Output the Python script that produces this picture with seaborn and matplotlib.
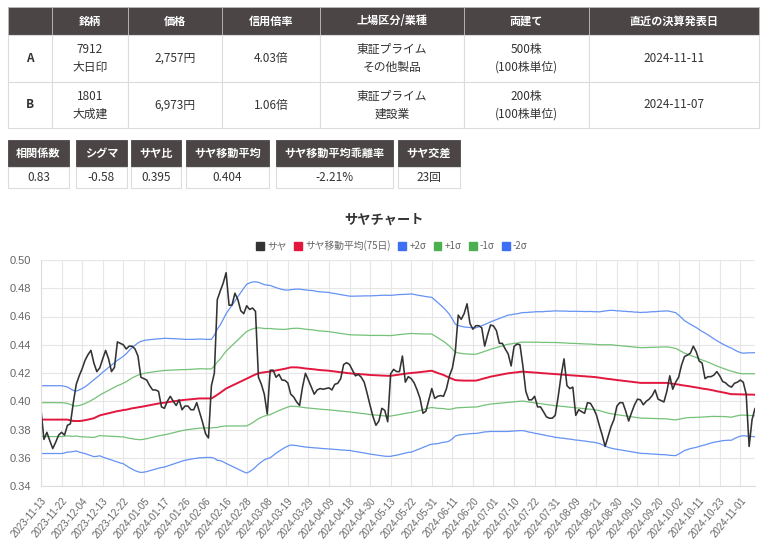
import numpy as np
import pandas as pd
import matplotlib
matplotlib.use("Agg")
import matplotlib.pyplot as plt
from matplotlib.patches import Rectangle, Patch
import seaborn as sns

# ---- tables ----
header_cols = ["", "銘柄", "価格", "信用倍率", "上場区分/業種", "両建て", "直近の決算発表日"]
row_a = ["A", "7912\n大日印", "2,757円", "4.03倍", "東証プライム\nその他製品", "500株\n(100株単位)", "2024-11-11"]
row_b = ["B", "1801\n大成建", "6,973円", "1.06倍", "東証プライム\n建設業", "200株\n(100株単位)", "2024-11-07"]

stat_names = ["相関係数", "シグマ", "サヤ比", "サヤ移動平均", "サヤ移動平均乖離率", "サヤ交差"]
stat_values = ["0.83", "-0.58", "0.395", "0.404", "-2.21%", "23回"]

# ---- chart data (one value per trading day, 2023-11-13 .. 2024-11-11) ----
tick_labels = ["2023-11-13", "2023-11-22", "2023-12-04", "2023-12-13", "2023-12-22",
               "2024-01-05", "2024-01-17", "2024-01-26", "2024-02-06", "2024-02-16",
               "2024-02-28", "2024-03-08", "2024-03-19", "2024-03-29", "2024-04-09",
               "2024-04-18", "2024-04-30", "2024-05-13", "2024-05-22", "2024-05-31",
               "2024-06-11", "2024-06-20", "2024-07-01", "2024-07-10", "2024-07-22",
               "2024-07-31", "2024-08-09", "2024-08-21", "2024-08-30", "2024-09-10",
               "2024-09-20", "2024-10-02", "2024-10-11", "2024-10-23", "2024-11-01"]

saya = [
    0.394, 0.373, 0.378, 0.372, 0.3665, 0.371, 0.376, 0.378, 0.376, 0.383,
    0.384, 0.399, 0.412, 0.418, 0.423, 0.429, 0.433, 0.436, 0.427, 0.421,
    0.4236, 0.430, 0.436, 0.430, 0.421, 0.424, 0.442, 0.441, 0.440, 0.437,
    0.439, 0.439, 0.437, 0.432, 0.417, 0.416, 0.415, 0.411, 0.408, 0.408,
    0.407, 0.396, 0.395, 0.400, 0.4035, 0.400, 0.397, 0.401, 0.394, 0.3966,
    0.3966, 0.394, 0.394, 0.399, 0.392, 0.385, 0.377, 0.374, 0.411, 0.420,
    0.472, 0.478, 0.4836, 0.491, 0.468, 0.468, 0.4765, 0.472, 0.464, 0.462,
    0.4676, 0.465, 0.466, 0.4636, 0.417, 0.412, 0.405, 0.391, 0.422, 0.422,
    0.417, 0.419, 0.415, 0.4148, 0.413, 0.405, 0.403, 0.3995, 0.397, 0.410,
    0.4198, 0.415, 0.410, 0.405, 0.408, 0.409, 0.4085, 0.409, 0.4095, 0.408,
    0.412, 0.4127, 0.416, 0.426, 0.4273, 0.426, 0.422, 0.418, 0.419, 0.417,
    0.4135, 0.4056, 0.397, 0.389, 0.383, 0.386, 0.395, 0.3935, 0.3855, 0.4194,
    0.4226, 0.421, 0.421, 0.432, 0.4135, 0.4174, 0.416, 0.413, 0.408, 0.402,
    0.3915, 0.393, 0.401, 0.409, 0.402, 0.4035, 0.404, 0.4035, 0.409, 0.418,
    0.4235, 0.435, 0.461, 0.458, 0.462, 0.469, 0.455, 0.451, 0.4535, 0.4535,
    0.452, 0.439, 0.447, 0.454, 0.4533, 0.450, 0.441, 0.441, 0.437, 0.4335,
    0.425, 0.4388, 0.4405, 0.440, 0.425, 0.407, 0.401, 0.401, 0.4035, 0.396,
    0.396, 0.3926, 0.389, 0.388, 0.388, 0.390, 0.403, 0.418, 0.430, 0.411,
    0.409, 0.410, 0.390, 0.394, 0.3926, 0.3915, 0.399, 0.3985, 0.395, 0.3905,
    0.383, 0.376, 0.368, 0.375, 0.382, 0.387, 0.3966, 0.399, 0.399, 0.393,
    0.386, 0.392, 0.3975, 0.4015, 0.401, 0.3975, 0.400, 0.4015, 0.404, 0.408,
    0.4015, 0.4005, 0.3995, 0.407, 0.418, 0.4085, 0.4135, 0.417, 0.4256, 0.4316,
    0.4327, 0.434, 0.439, 0.435, 0.4285, 0.427, 0.416, 0.4174, 0.4174, 0.4185,
    0.421, 0.418, 0.414, 0.413, 0.411, 0.410, 0.4127, 0.4135, 0.415, 0.4135,
    0.405, 0.368, 0.387, 0.395,
]

saya_ma = [
    0.387, 0.387, 0.387, 0.387, 0.387, 0.387, 0.387, 0.387, 0.387, 0.387,
    0.3865, 0.386, 0.386, 0.386, 0.3862, 0.3866, 0.387, 0.3875, 0.388, 0.389,
    0.390, 0.3905, 0.391, 0.3915, 0.392, 0.3925, 0.393, 0.3933, 0.3938, 0.394,
    0.3945, 0.395, 0.3953, 0.3957, 0.396, 0.3964, 0.3968, 0.3972, 0.3976, 0.398,
    0.3984, 0.3987, 0.399, 0.3993, 0.3996, 0.3999, 0.4002, 0.4005, 0.4008, 0.401,
    0.4012, 0.4014, 0.4016, 0.4018, 0.402, 0.402, 0.402, 0.402, 0.402, 0.4032,
    0.4046, 0.406, 0.4075, 0.409, 0.410, 0.411, 0.412, 0.413, 0.414, 0.415,
    0.416, 0.417, 0.418, 0.419, 0.4198, 0.4202, 0.4205, 0.4208, 0.421, 0.4214,
    0.4218, 0.4222, 0.4226, 0.423, 0.4235, 0.424, 0.424, 0.424, 0.4238, 0.4235,
    0.4232, 0.423, 0.4228, 0.4226, 0.4223, 0.4221, 0.4219, 0.4218, 0.4216, 0.4213,
    0.4211, 0.4208, 0.4205, 0.4203, 0.420, 0.4198, 0.4196, 0.4194, 0.4193, 0.4191,
    0.419, 0.4188, 0.4186, 0.4185, 0.4184, 0.4183, 0.4182, 0.4181, 0.418, 0.418,
    0.4183, 0.4186, 0.4189, 0.4192, 0.4195, 0.4198, 0.420, 0.4202, 0.4204, 0.4206,
    0.4209, 0.4211, 0.4214, 0.4216, 0.4208, 0.420, 0.4193, 0.4186, 0.4176, 0.4167,
    0.4158, 0.415, 0.4148, 0.4147, 0.4146, 0.4146, 0.4146, 0.4146, 0.4146, 0.4151,
    0.4157, 0.4163, 0.4168, 0.4174, 0.4178, 0.4182, 0.4186, 0.419, 0.4194, 0.4198,
    0.420, 0.4203, 0.4205, 0.4208, 0.421, 0.4208, 0.4206, 0.4205, 0.4203, 0.4202,
    0.420, 0.4198, 0.4197, 0.4195, 0.4194, 0.4192, 0.4191, 0.4189, 0.4188, 0.4186,
    0.4184, 0.4183, 0.4181, 0.418, 0.4178, 0.4177, 0.4175, 0.4174, 0.4172, 0.417,
    0.4167, 0.4164, 0.4161, 0.4158, 0.4156, 0.4153, 0.415, 0.4148, 0.4145, 0.4143,
    0.414, 0.4138, 0.4135, 0.4133, 0.413, 0.413, 0.413, 0.413, 0.413, 0.413,
    0.413, 0.413, 0.413, 0.413, 0.4127, 0.4124, 0.4121, 0.4118, 0.4114, 0.4111,
    0.4108, 0.4105, 0.4101, 0.4098, 0.4094, 0.409, 0.4087, 0.4084, 0.408, 0.4076,
    0.4071, 0.4067, 0.4063, 0.4059, 0.4054, 0.405, 0.405, 0.4049, 0.4049, 0.4048,
    0.4048, 0.4047, 0.4047, 0.4046,
]

# width of one sigma
saya_sigma = [
    0.012, 0.012, 0.012, 0.012, 0.012, 0.012, 0.012, 0.012, 0.0118, 0.0115,
    0.0112, 0.0108, 0.0106, 0.011, 0.0114, 0.0118, 0.0124, 0.013, 0.0136, 0.014,
    0.0143, 0.015, 0.0156, 0.0162, 0.0168, 0.0174, 0.018, 0.0185, 0.019, 0.0198,
    0.0207, 0.0215, 0.0222, 0.0228, 0.0232, 0.0233, 0.0233, 0.0232, 0.0231, 0.023,
    0.0229, 0.0228, 0.0228, 0.0226, 0.0224, 0.0222, 0.022, 0.0218, 0.0216, 0.0214,
    0.0213, 0.0212, 0.0211, 0.0211, 0.021, 0.021, 0.0209, 0.0209, 0.0209, 0.0218,
    0.0232, 0.024, 0.0252, 0.0265, 0.0275, 0.0285, 0.0295, 0.0305, 0.0315, 0.0325,
    0.0334, 0.0334, 0.0332, 0.0328, 0.0322, 0.0316, 0.031, 0.0307, 0.0305, 0.0299,
    0.0293, 0.0288, 0.0283, 0.0279, 0.0276, 0.0275, 0.0276, 0.0277, 0.0278, 0.0278,
    0.0278, 0.0278, 0.0278, 0.0278, 0.0277, 0.0277, 0.0277, 0.0277, 0.0277, 0.0276,
    0.0276, 0.0275, 0.0275, 0.0274, 0.0274, 0.0273, 0.0274, 0.0275, 0.0276, 0.0277,
    0.0278, 0.0279, 0.028, 0.0281, 0.0282, 0.0283, 0.0284, 0.0285, 0.0285, 0.0285,
    0.0284, 0.0284, 0.0283, 0.0282, 0.0281, 0.028, 0.028, 0.0277, 0.0274, 0.0271,
    0.0268, 0.0265, 0.0262, 0.026, 0.0255, 0.025, 0.0244, 0.0238, 0.0232, 0.0224,
    0.0212, 0.0198, 0.0194, 0.0192, 0.019, 0.0189, 0.0188, 0.0187, 0.0187, 0.0188,
    0.0189, 0.019, 0.0192, 0.0194, 0.0196, 0.0198, 0.02, 0.0202, 0.0204, 0.0206,
    0.0206, 0.0207, 0.0207, 0.0208, 0.0209, 0.021, 0.0212, 0.0213, 0.0215, 0.0216,
    0.0217, 0.0218, 0.022, 0.0221, 0.0222, 0.0224, 0.0224, 0.0225, 0.0225, 0.0226,
    0.0226, 0.0227, 0.0228, 0.0228, 0.0229, 0.0229, 0.023, 0.0231, 0.0231, 0.0232,
    0.0233, 0.0236, 0.0239, 0.0242, 0.0244, 0.0245, 0.0245, 0.0246, 0.0246, 0.0247,
    0.0247, 0.0248, 0.0248, 0.0249, 0.0249, 0.025, 0.025, 0.0251, 0.0252, 0.0252,
    0.0253, 0.0254, 0.0254, 0.0255, 0.0255, 0.0254, 0.0253, 0.0246, 0.0238, 0.023,
    0.0225, 0.022, 0.0216, 0.0212, 0.0207, 0.0202, 0.0198, 0.0193, 0.0188, 0.0183,
    0.0179, 0.0175, 0.0171, 0.0168, 0.0165, 0.0163, 0.0157, 0.0152, 0.0148, 0.0146,
    0.0147, 0.0148, 0.0148, 0.0149,
]

df = pd.DataFrame({"day": np.arange(len(saya)), "saya": saya, "ma": saya_ma})
sig = np.array(saya_sigma)
df["p2"] = df["ma"] + 2 * sig
df["p1"] = df["ma"] + sig
df["m1"] = df["ma"] - sig
df["m2"] = df["ma"] - 2 * sig

sns.set_style("whitegrid")
plt.rcParams["font.family"] = ["Noto Sans CJK JP", "DejaVu Sans"]

HEAD = "#4b4546"
LINE = "#dcdcdc"
TXT = "#333333"
C_SAYA = "#333333"
C_MA = "#e3173e"
C_BLUE = "#6592f5"
C_GREEN = "#74c278"

fig = plt.figure(figsize=(7.68, 5.49), dpi=100)
ov = fig.add_axes([0, 0, 1, 1])
ov.set_xlim(0, 768)
ov.set_ylim(549, 0)
ov.axis("off")

# main info table
col_edges = [8, 52, 128, 222, 320, 464, 589, 759]
row_edges = [7, 35, 82, 128]
for c in range(len(header_cols)):
    x0, x1 = col_edges[c], col_edges[c + 1]
    ov.add_patch(Rectangle((x0, row_edges[0]), x1 - x0, row_edges[1] - row_edges[0],
                           fc=HEAD, ec="#bdb8b8", lw=0.6))
    ov.text((x0 + x1) / 2, (row_edges[0] + row_edges[1]) / 2, header_cols[c],
            color="white", fontsize=8, weight="bold", ha="center", va="center")
    for r, row in enumerate([row_a, row_b]):
        y0, y1 = row_edges[r + 1], row_edges[r + 2]
        ov.add_patch(Rectangle((x0, y0), x1 - x0, y1 - y0, fc="white", ec=LINE, lw=0.8))
        ov.text((x0 + x1) / 2, (y0 + y1) / 2, row[c], color=TXT, fontsize=8.5,
                weight="bold" if c == 0 else "normal", ha="center", va="center",
                linespacing=1.45)

# stats boxes
stat_x = [(8, 69), (76, 127), (131, 181), (186, 269), (276, 393), (398, 460)]
for (x0, x1), name, val in zip(stat_x, stat_names, stat_values):
    ov.add_patch(Rectangle((x0, 140), x1 - x0, 27, fc=HEAD, ec=HEAD, lw=0.6))
    ov.add_patch(Rectangle((x0, 167), x1 - x0, 21, fc="white", ec=LINE, lw=0.8))
    ov.text((x0 + x1) / 2, 153.5, name, color="white", fontsize=8, weight="bold",
            ha="center", va="center")
    ov.text((x0 + x1) / 2, 177.5, val, color=TXT, fontsize=8.5, ha="center", va="center")

# chart
ax = fig.add_axes([41 / 768, 1 - 486 / 549, (755 - 41) / 768, (486 - 260) / 549])
for col, color in [("p2", C_BLUE), ("p1", C_GREEN), ("m1", C_GREEN), ("m2", C_BLUE)]:
    sns.lineplot(data=df, x="day", y=col, ax=ax, color=color, lw=0.9, estimator=None)
sns.lineplot(data=df, x="day", y="ma", ax=ax, color=C_MA, lw=1.4, estimator=None)
sns.lineplot(data=df, x="day", y="saya", ax=ax, color=C_SAYA, lw=1.15, estimator=None)

ax.set_xlim(0, len(saya) - 1)
ax.set_ylim(0.34, 0.50)
ax.set_yticks(np.arange(0.34, 0.501, 0.02))
ax.set_yticklabels([f"{v:.2f}" for v in np.arange(0.34, 0.501, 0.02)],
                   family="Liberation Sans")
ax.set_xticks(np.arange(0, 7 * len(tick_labels), 7))
ax.set_xticklabels(tick_labels, rotation=50, ha="right", rotation_mode="anchor",
                   family="Liberation Sans")
ax.set_xlabel("")
ax.set_ylabel("")
ax.grid(True, color="#e6e6e6", lw=0.8)
ax.tick_params(axis="both", length=5, color="#e0e0e0", labelcolor="#666666", labelsize=8, pad=2)
ax.tick_params(axis="x", labelsize=7)
for s in ["top", "right"]:
    ax.spines[s].set_visible(False)
for s in ["left", "bottom"]:
    ax.spines[s].set_color("#dcdcdc")
    ax.spines[s].set_linewidth(0.8)
ax.set_facecolor("white")

fig.text(384 / 768, 1 - 220 / 549, "サヤチャート", ha="center", va="center",
         fontsize=9.5, weight="bold", color=TXT)

handles = [Patch(fc=C_SAYA, ec=C_SAYA), Patch(fc=C_MA, ec=C_MA), Patch(fc="#3d6ff5", ec="#3d6ff5"),
           Patch(fc="#4caf50", ec="#4caf50"), Patch(fc="#4caf50", ec="#4caf50"), Patch(fc="#3d6ff5", ec="#3d6ff5")]
labels = ["サヤ", "サヤ移動平均(75日)", "+2σ", "+1σ", "-1σ", "-2σ"]
fig.legend(handles, labels, loc="center", bbox_to_anchor=(392 / 768, 1 - 246 / 549), ncol=6,
           frameon=False, fontsize=7, handlelength=0.8, handleheight=0.8, handletextpad=0.3,
           columnspacing=0.8, labelcolor="#666666")

fig.savefig("out.png", dpi=100)
